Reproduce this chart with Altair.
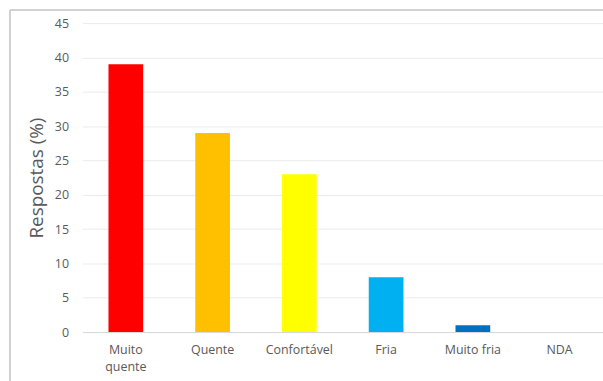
import altair as alt
import pandas as pd

categories = ["Muito quente", "Quente", "Confortável", "Fria", "Muito fria", "NDA"]
values = [39, 29, 23, 8, 1, 0]
colors = ["#FF0000", "#FFC000", "#FFFF00", "#00B0F0", "#0070C0", "#7F7F7F"]
y_ticks = [0, 5, 10, 15, 20, 25, 30, 35, 40, 45]

df = pd.DataFrame({"cat": categories, "val": values})

FONT = "Open Sans"
GRAY = "#595959"

bars = alt.Chart(df).mark_bar().encode(
    x=alt.X("cat:N", sort=categories,
            scale=alt.Scale(paddingInner=0.6, paddingOuter=0.3),
            axis=alt.Axis(title=None, labelAngle=0, labelFontSize=12.5, labelColor=GRAY,
                          labelFont=FONT, labelPadding=12, labelLineHeight=17,
                          ticks=False, domainColor="#D9D9D9", domainWidth=1,
                          labelExpr="datum.label == 'Muito quente' ? ['Muito', 'quente'] : datum.label")),
    y=alt.Y("val:Q", scale=alt.Scale(domain=[0, 45], nice=False),
            axis=alt.Axis(title="Respostas (%)", values=y_ticks, labelFontSize=12.5,
                          labelColor=GRAY, labelFont=FONT, labelPadding=14, ticks=False,
                          domain=False, gridColor="#EBEBEB", gridWidth=1,
                          titleFontSize=19, titleFont=FONT, titleColor=GRAY,
                          titleFontWeight="normal", titlePadding=8)),
    color=alt.Color("cat:N", sort=categories,
                    scale=alt.Scale(domain=categories, range=colors), legend=None),
)

frame_top = alt.Chart(df).mark_rule(color="#D0D0D0", strokeWidth=1).encode(
    x=alt.value(-73), x2=alt.value(540), y=alt.value(-13)
)
frame_left = alt.Chart(df).mark_rule(color="#D0D0D0", strokeWidth=1).encode(
    x=alt.value(-73), y=alt.value(-13), y2=alt.value(400)
)

chart = alt.layer(bars, frame_top, frame_left).properties(
    width=524, height=311,
    padding={"left": 83, "top": 22, "right": 0, "bottom": 48},
    autosize=alt.AutoSizeParams(type="none"),
    background="white",
).configure_view(stroke=None)

chart.save("out.html", embed_options={"renderer": "svg", "actions": False})
